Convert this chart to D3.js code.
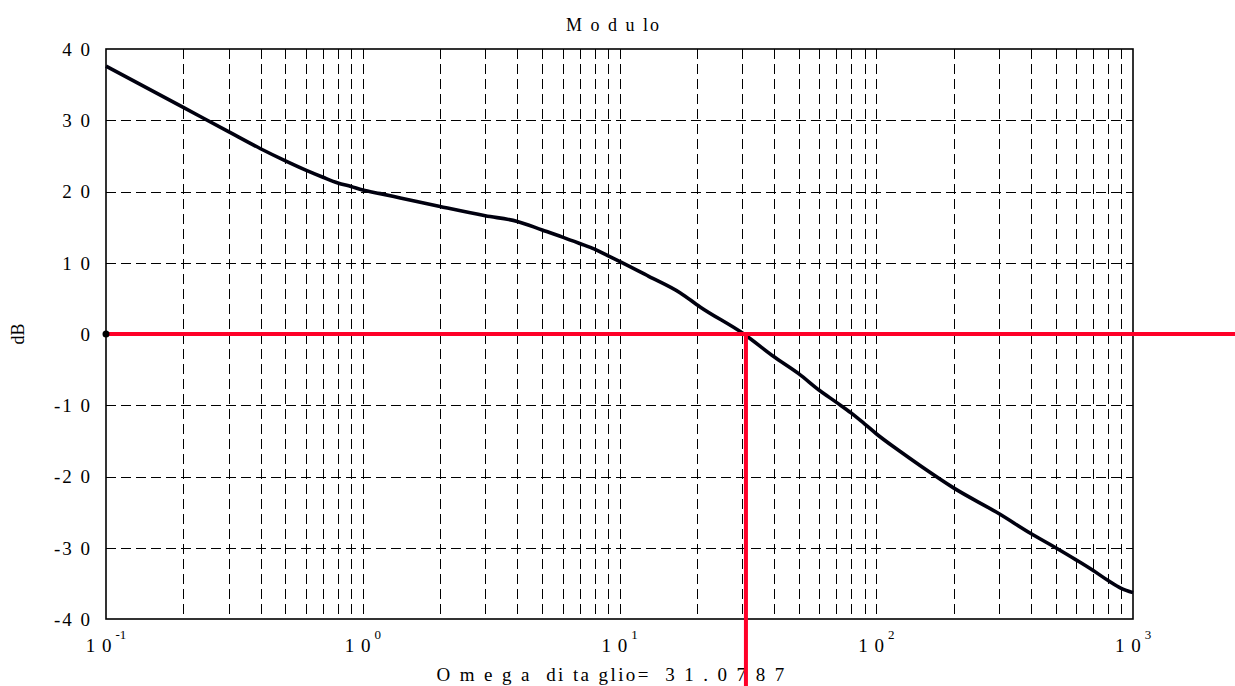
<!DOCTYPE html>
<html>
<head>
<meta charset="utf-8">
<script src="https://cdn.jsdelivr.net/npm/d3@7"></script>
<style>
  html, body { margin: 0; padding: 0; background: #fff; }
  svg { display: block; }
</style>
</head>
<body>
<div id="chart"></div>
<script>
/* global d3 */

// frequency (rad/s) and magnitude (dB)
const omega = [0.1, 0.2, 0.3, 0.4, 0.5, 0.6, 0.7, 0.8, 0.9, 1, 1.17, 1.4, 2, 3, 4, 5, 6, 7, 8, 9, 10,
  13, 17.2, 20.6, 30.5, 40, 50, 60, 70, 80, 90, 100, 124, 150, 200, 300, 400, 500, 600, 700, 800, 900, 1000];
const modulo = [37.6, 31.8, 28.4, 26.0, 24.3, 23.0, 22.0, 21.2, 20.7, 20.2, 19.7, 19.1, 17.9, 16.6, 15.8, 14.6, 13.6, 12.7, 11.9, 11.0, 10.2,
  8.1, 5.8, 3.8, 0, -3.2, -5.6, -7.9, -9.6, -11.1, -12.6, -14.0, -16.5, -18.6, -21.6, -25.2, -28.0, -30.0, -31.7, -33.2, -34.6, -35.7, -36.3];

const omegaTaglio = 31.0787;

const yTicks = [40, 30, 20, 10, 0, -10, -20, -30, -40];
const yTickLabels = ['4 0', '3 0', '2 0', '1 0', '0', '-1 0', '-2 0', '-3 0', '-4 0'];
const xDecades = [0.1, 1, 10, 100, 1000];
const xExponents = ['-1', '0', '1', '2', '3'];

const W = 1235, H = 686;
const margin = { top: 49, right: 102, bottom: 67, left: 106 };
const serif = '"Liberation Serif", "Times New Roman", serif';

const svg = d3.select('#chart').append('svg').attr('width', W).attr('height', H);

const x = d3.scaleLog().domain([0.1, 1000]).range([margin.left, W - margin.right]);
const y = d3.scaleLinear().domain([-40, 40]).range([H - margin.bottom, margin.top]);

// grid: every 1..9 in each decade, plus every 10 dB
const gridX = [];
xDecades.slice(0, -1).forEach(d => { for (let k = 1; k < 10; k++) gridX.push(d * k); });
gridX.push(1000);

const grid = svg.append('g').attr('stroke', '#000').attr('stroke-width', 1)
  .attr('stroke-dasharray', '10,5').attr('shape-rendering', 'crispEdges');
grid.selectAll('.gx').data(gridX.slice(1, -1)).join('line').attr('class', 'gx')
  .attr('x1', d => Math.round(x(d)) + 0.5).attr('x2', d => Math.round(x(d)) + 0.5)
  .attr('y1', y(40)).attr('y2', y(-40));
grid.selectAll('.gy').data(yTicks.slice(1, -1)).join('line').attr('class', 'gy')
  .attr('x1', x(0.1)).attr('x2', x(1000))
  .attr('y1', d => Math.round(y(d)) + 0.5).attr('y2', d => Math.round(y(d)) + 0.5);

// frame
svg.append('rect')
  .attr('x', x(0.1)).attr('y', y(40))
  .attr('width', x(1000) - x(0.1)).attr('height', y(-40) - y(40))
  .attr('fill', 'none').attr('stroke', '#000').attr('stroke-width', 1.6);

// y tick labels
svg.append('g').selectAll('text').data(yTicks).join('text')
  .attr('x', margin.left - 14).attr('y', d => y(d))
  .attr('dy', '0.36em').attr('text-anchor', 'end')
  .attr('font-family', serif).attr('font-size', 19).attr('letter-spacing', 2)
  .attr('fill', '#000')
  .text((d, i) => yTickLabels[i]);

// x tick labels 10^n
const xl = svg.append('g').selectAll('text').data(xDecades).join('text')
  .attr('x', d => x(d)).attr('y', H - margin.bottom + 33)
  .attr('text-anchor', 'middle')
  .attr('font-family', serif).attr('font-size', 19).attr('fill', '#000');
xl.append('tspan').attr('letter-spacing', 1).text('1 0');
xl.append('tspan').attr('font-size', 13).attr('dx', 3).attr('dy', -13)
  .text((d, i) => xExponents[i].split('').join(' ').replace('- ', '-'));

// title
svg.append('text')
  .attr('x', (x(0.1) + x(1000)) / 2 - 6).attr('y', 31)
  .attr('text-anchor', 'middle')
  .attr('font-family', serif).attr('font-size', 18).attr('letter-spacing', 2)
  .text('M o d u lo');

// y axis title
svg.append('text')
  .attr('transform', `translate(24, ${y(0)}) rotate(-90)`)
  .attr('text-anchor', 'middle')
  .attr('font-family', serif).attr('font-size', 18)
  .text('dB');

// bottom label
svg.append('text')
  .attr('x', (x(0.1) + x(1000)) / 2 - 8).attr('y', 681)
  .attr('text-anchor', 'middle')
  .style('white-space', 'pre')
  .attr('font-family', serif).attr('font-size', 19).attr('letter-spacing', 2.4)
  .text('O m e g a  di ta glio=  ' + String(omegaTaglio).split('').join(' '));

// magnitude curve
const line = d3.line().x((d, i) => x(omega[i])).y(d => y(d)).curve(d3.curveMonotoneX);
svg.append('path').datum(modulo)
  .attr('d', line)
  .attr('fill', 'none').attr('stroke', '#00000f').attr('stroke-width', 3.6)
  .attr('stroke-linejoin', 'round');

// 0 dB line and crossover marker
svg.append('line')
  .attr('x1', x(0.1)).attr('x2', W)
  .attr('y1', y(0)).attr('y2', y(0))
  .attr('stroke', '#ff0028').attr('stroke-width', 4);
svg.append('line')
  .attr('x1', x(omegaTaglio)).attr('x2', x(omegaTaglio))
  .attr('y1', y(0)).attr('y2', H)
  .attr('stroke', '#ff0028').attr('stroke-width', 4);

svg.append('circle').attr('cx', x(0.1)).attr('cy', y(0)).attr('r', 3.5).attr('fill', '#000');
</script>
</body>
</html>
